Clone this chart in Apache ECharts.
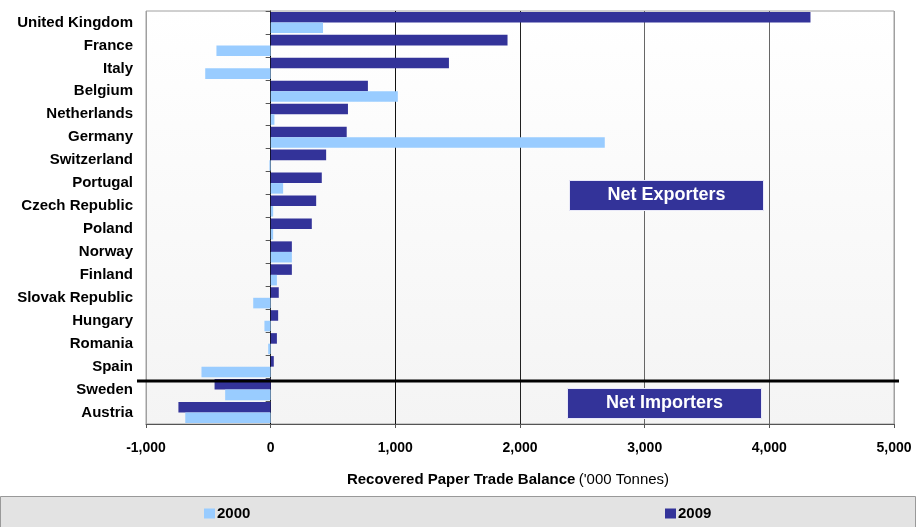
<!DOCTYPE html>
<html>
<head>
<meta charset="utf-8">
<script src="https://cdn.jsdelivr.net/npm/echarts@6/dist/echarts.min.js"></script>
<style>
  html, body { margin: 0; padding: 0; background: #fff; }
  #chart { width: 917px; height: 527px; }
</style>
</head>
<body>
<div id="chart"></div>
<script>
// countries, top to bottom
var countries = ['United Kingdom', 'France', 'Italy', 'Belgium', 'Netherlands', 'Germany',
    'Switzerland', 'Portugal', 'Czech Republic', 'Poland', 'Norway', 'Finland',
    'Slovak Republic', 'Hungary', 'Romania', 'Spain', 'Sweden', 'Austria'];
// '000 tonnes
var values2009 = [4330, 1900, 1430, 780, 620, 610, 445, 410, 365, 330, 170, 170, 65, 60, 50, 25, -450, -740];
var values2000 = [420, -435, -525, 1020, 30, 2680, -10, 100, 20, 20, 170, 50, -140, -50, -20, -555, -365, -685];
var xTicks = [-1000, 0, 1000, 2000, 3000, 4000, 5000];

var FONT = '"Liberation Sans", Arial, sans-serif';
var DARK = '#333399';
var LIGHT = '#99CCFF';

var chart = echarts.init(document.getElementById('chart'));

chart.setOption({
    animation: false,
    textStyle: { fontFamily: FONT },
    grid: {
        left: 146, right: 23, top: 11, bottom: 103,
        show: true,
        borderColor: '#a0a0a0',
        borderWidth: 1,
        backgroundColor: new echarts.graphic.LinearGradient(0, 0, 0, 1, [
            { offset: 0, color: '#ffffff' },
            { offset: 1, color: '#f4f4f4' }
        ])
    },
    legend: [{
        data: ['2000'], left: 204, top: 506, padding: 0,
        icon: 'rect', itemWidth: 11, itemHeight: 10,
        textStyle: { fontFamily: FONT, fontWeight: 'bold', fontSize: 15, color: '#000', padding: [0, 0, 0, -3] }
    }, {
        data: ['2009'], left: 665, top: 506, padding: 0,
        icon: 'rect', itemWidth: 11, itemHeight: 10,
        textStyle: { fontFamily: FONT, fontWeight: 'bold', fontSize: 15, color: '#000', padding: [0, 0, 0, -3] }
    }],
    xAxis: {
        type: 'value',
        min: xTicks[0],
        max: xTicks[xTicks.length - 1],
        interval: 1000,
        name: '{b|Recovered Paper Trade Balance} {n|(\'000 Tonnes)}',
        nameLocation: 'middle',
        nameGap: 48,
        nameTextStyle: {
            padding: [0, 24, 0, 0],
            rich: {
                b: { fontFamily: FONT, fontWeight: 'bold', fontSize: 15, color: '#000' },
                n: { fontFamily: FONT, fontSize: 15, color: '#000' }
            }
        },
        axisLine: { show: true, lineStyle: { color: '#555', width: 1 } },
        axisTick: { show: true, length: 4, lineStyle: { color: '#555' } },
        axisLabel: {
            margin: 17,
            fontFamily: FONT, fontWeight: 'bold', fontSize: 14, color: '#000',
            formatter: function (v) { return echarts.format.addCommas(v); }
        },
        splitLine: {
            show: true,
            lineStyle: { color: ['#a0a0a0', '#000', '#111', '#222', '#666', '#666', '#a0a0a0'], width: 1 }
        }
    },
    yAxis: [{
        type: 'category',
        data: countries,
        inverse: true,
        axisLine: { show: false, onZero: false },
        axisTick: { show: false },
        axisLabel: {
            margin: 13,
            fontFamily: FONT, fontWeight: 'bold', fontSize: 15, color: '#000'
        }
    }, {
        type: 'category',
        data: countries,
        inverse: true,
        position: 'left',
        axisLine: { show: true, onZero: true, lineStyle: { color: '#000', width: 1 } },
        axisTick: { show: true, length: 5, lineStyle: { color: '#555' } },
        axisLabel: { show: false }
    }],
    series: [{
        name: '2009',
        type: 'bar',
        data: values2009,
        barGap: '0%',
        barCategoryGap: '8%',
        itemStyle: { color: DARK }
    }, {
        name: '2000',
        type: 'bar',
        data: values2000,
        barGap: '0%',
        barCategoryGap: '8%',
        itemStyle: { color: LIGHT }
    }]
});

// divider between exporters and importers, plus the two tag boxes
var ySpain = chart.convertToPixel({ yAxisIndex: 0 }, 'Spain');
var ySweden = chart.convertToPixel({ yAxisIndex: 0 }, 'Sweden');
var yDiv = Math.round((ySpain + ySweden) / 2) + 3;

function tag(label, x, y) {
    return {
        type: 'group', left: x, top: y,
        children: [{
            type: 'rect',
            shape: { x: 0, y: 0, width: 194, height: 30 },
            style: { fill: DARK, stroke: '#e8e8f8', lineWidth: 1 }
        }, {
            type: 'text',
            x: 97, y: 15,
            style: {
                text: label, fill: '#fff',
                font: 'bold 18px ' + FONT,
                textAlign: 'center', textVerticalAlign: 'middle'
            }
        }]
    };
}

chart.setOption({
    graphic: [{
        type: 'rect',
        left: 0, top: 496, z: -10,
        shape: { x: 0, y: 0, width: 915, height: 40 },
        style: { fill: '#e3e3e3', stroke: '#999', lineWidth: 1 }
    }, {
        type: 'line',
        shape: { x1: 137, y1: yDiv, x2: 899, y2: yDiv },
        style: { stroke: '#000', lineWidth: 3 },
        z: 100
    },
        tag('Net Exporters', 569, 180),
        tag('Net Importers', 567, 388)
    ]
});
</script>
</body>
</html>
